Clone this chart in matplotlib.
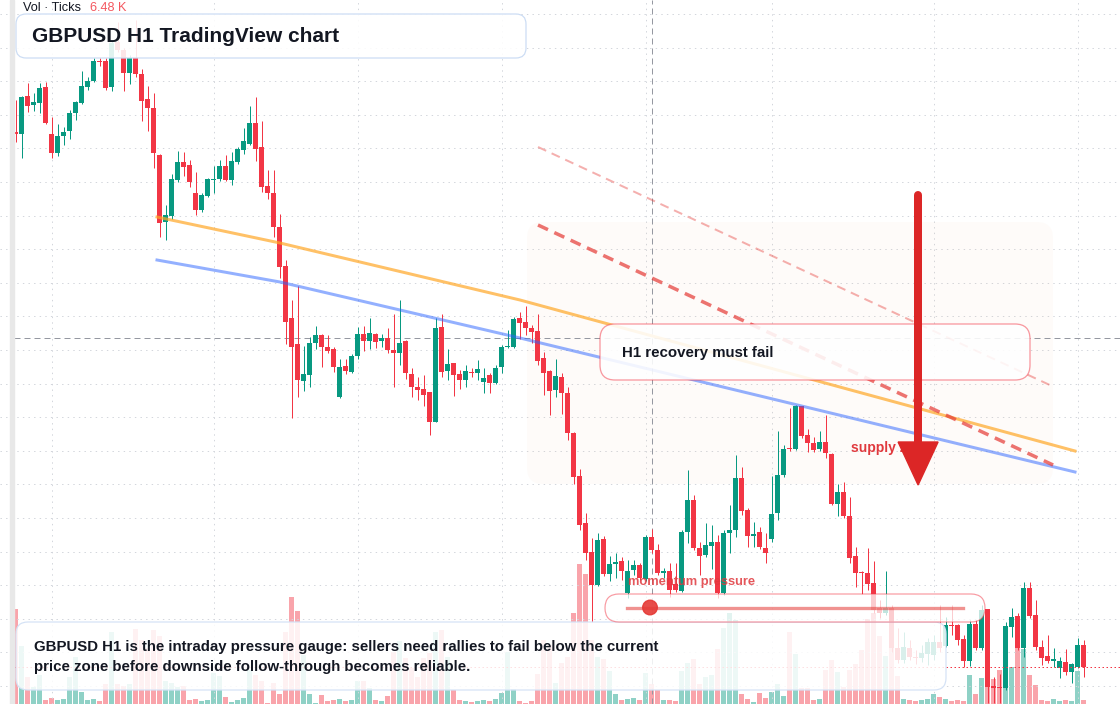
import matplotlib
matplotlib.use("Agg")
import matplotlib.pyplot as plt
import matplotlib.transforms as mtransforms
from matplotlib.patches import FancyBboxPatch, Polygon, Circle, Rectangle
from matplotlib.colors import to_rgba
import numpy as np

# ---- Dati (H1, prezzo in punti, volume in K tick) ----
opens = [
    668, 666, 704, 695, 697, 713, 666, 647, 664, 669,
    687, 697, 713, 719, 739, 739, 713, 758, 750, 727,
    742, 726, 701, 692, 645, 578, 584, 620, 638, 635,
    607, 590, 604, 620, 621, 634, 620, 638, 650, 656,
    677, 653, 614, 607, 573, 534, 482, 456, 419, 425,
    457, 465, 453, 451, 403, 434, 428, 444, 466, 459,
    466, 459, 462, 450, 447, 459, 426, 413, 411, 408,
    378, 473, 429, 437, 426, 420, 428, 427, 418, 425,
    417, 433, 453, 453, 482, 478, 472, 469, 442, 429,
    410, 423, 407, 367, 324, 277, 248, 215, 261, 226,
    236, 239, 207, 230, 235, 221, 263, 250, 227, 229,
    216, 209, 268, 300, 252, 245, 254, 258, 207, 267,
    270, 322, 290, 264, 268, 252, 261, 287, 325, 352,
    351, 394, 365, 357, 351, 358, 346, 296, 308, 284,
    244, 228, 227, 217, 192, 187, 192, 152, 140, 152,
    143, 142, 146, 145, 158, 154, 175, 175, 161, 139,
    176, 152, 191, 114, 113, 112, 173, 184, 152, 212,
    185, 153, 144, 139, 132, 138, 128, 133, 155,
]
highs = [
    700, 704, 717, 707, 717, 718, 683, 676, 673, 690,
    699, 729, 723, 742, 742, 742, 760, 778, 752, 745,
    780, 731, 714, 707, 646, 595, 626, 649, 648, 640,
    628, 607, 622, 634, 640, 645, 648, 653, 672, 694,
    703, 679, 630, 630, 586, 540, 500, 514, 454, 463,
    474, 466, 465, 453, 441, 441, 446, 473, 474, 482,
    467, 466, 472, 486, 500, 460, 432, 423, 425, 408,
    482, 486, 451, 437, 430, 435, 432, 440, 432, 427,
    435, 455, 470, 483, 488, 494, 475, 486, 448, 430,
    441, 427, 413, 368, 331, 287, 262, 267, 264, 244,
    247, 243, 240, 240, 237, 265, 271, 256, 232, 237,
    237, 270, 330, 305, 258, 277, 275, 265, 270, 295,
    345, 333, 292, 278, 273, 267, 324, 369, 355, 392,
    395, 394, 371, 363, 369, 385, 347, 316, 318, 303,
    253, 229, 252, 239, 200, 229, 195, 172, 168, 160,
    150, 155, 162, 165, 195, 183, 195, 176, 165, 180,
    180, 195, 191, 123, 126, 178, 192, 187, 218, 218,
    200, 160, 165, 152, 143, 151, 137, 162, 160,
]
lows = [
    658, 642, 688, 689, 687, 676, 642, 644, 655, 661,
    680, 696, 710, 718, 734, 710, 709, 748, 709, 716,
    723, 679, 669, 632, 563, 560, 581, 618, 624, 613,
    585, 588, 603, 607, 619, 619, 615, 636, 646, 655,
    639, 608, 601, 563, 522, 456, 382, 403, 409, 413,
    451, 433, 447, 428, 402, 426, 427, 441, 449, 451,
    452, 453, 447, 413, 435, 421, 403, 400, 394, 365,
    378, 423, 420, 404, 411, 413, 423, 420, 407, 407,
    416, 427, 452, 452, 461, 465, 457, 435, 405, 385,
    403, 386, 360, 316, 270, 240, 178, 214, 224, 219,
    222, 220, 202, 225, 220, 219, 247, 225, 222, 203,
    208, 208, 257, 250, 225, 243, 231, 202, 205, 247,
    263, 285, 253, 253, 251, 237, 258, 280, 323, 349,
    350, 362, 348, 348, 349, 342, 295, 284, 282, 237,
    213, 206, 210, 187, 182, 185, 148, 137, 137, 140,
    136, 138, 135, 140, 148, 153, 165, 155, 133, 134,
    150, 150, 97, 97, 97, 110, 163, 150, 143, 182,
    150, 135, 137, 133, 122, 125, 117, 132, 123,
]
closes = [
    666, 703, 694, 698, 712, 677, 647, 664, 668, 687,
    698, 714, 719, 739, 738, 712, 757, 750, 727, 742,
    726, 699, 692, 647, 577, 585, 621, 638, 633, 618,
    590, 605, 621, 621, 634, 620, 639, 651, 659, 677,
    651, 613, 607, 573, 533, 478, 453, 420, 426, 457,
    465, 453, 449, 433, 433, 429, 444, 466, 459, 467,
    458, 462, 450, 447, 457, 427, 413, 410, 405, 378,
    472, 428, 436, 425, 420, 429, 427, 431, 422, 417,
    432, 453, 454, 481, 477, 472, 468, 439, 427, 409,
    424, 407, 367, 323, 275, 247, 215, 260, 226, 236,
    238, 229, 229, 235, 222, 263, 250, 227, 229, 210,
    210, 268, 300, 252, 244, 255, 258, 207, 267, 270,
    322, 289, 264, 266, 253, 247, 286, 325, 351, 351,
    394, 364, 357, 350, 358, 347, 296, 308, 284, 242,
    227, 227, 216, 190, 187, 192, 152, 140, 153, 143,
    142, 147, 158, 158, 152, 175, 174, 160, 139, 176,
    152, 190, 113, 112, 112, 174, 183, 152, 212, 184,
    153, 142, 139, 141, 139, 128, 136, 155, 133,
]
volumes = [
    9.5, 5.8, 2.7, 1.7, 2.9, 0.4, 0.6, 0.4, 0.5, 2.7,
    4.7, 1.2, 0.4, 0.5, 0.3, 2.0, 7.2, 2.0, 1.8, 2.0,
    7.5, 6.4, 5.6, 7.4, 6.8, 2.3, 2.1, 1.7, 1.8, 0.4,
    0.5, 0.3, 0.4, 3.1, 2.8, 0.7, 0.2, 0.4, 0.6, 3.4,
    2.9, 2.3, 0.1, 2.1, 1.0, 7.2, 10.7, 9.3, 4.9, 1.0,
    0.1, 0.9, 0.3, 0.4, 0.5, 0.3, 0.4, 2.3, 2.3, 1.6,
    0.4, 0.3, 0.8, 5.2, 6.3, 4.6, 3.6, 2.7, 4.6, 5.1,
    7.2, 7.4, 4.7, 1.4, 0.4, 0.3, 0.2, 0.3, 0.4, 0.3,
    0.5, 1.1, 5.2, 1.5, 0.3, 0.1, 0.3, 3.0, 6.4, 5.9,
    2.1, 4.1, 4.7, 9.1, 14.0, 13.0, 6.4, 4.7, 4.5, 3.3,
    1.0, 0.4, 0.5, 0.6, 0.4, 3.1, 2.0, 1.4, 0.4, 0.4,
    0.3, 3.3, 4.1, 4.5, 2.0, 2.7, 2.9, 5.5, 7.6, 9.1,
    8.4, 1.0, 0.5, 0.2, 1.1, 0.6, 1.2, 2.0, 0.8, 7.2,
    5.0, 1.6, 1.6, 0.4, 0.5, 3.4, 4.4, 3.2, 1.7, 3.4,
    4.0, 5.4, 8.5, 9.1, 6.8, 4.8, 9.5, 2.8, 0.5, 0.4,
    0.3, 0.4, 0.5, 1.0, 0.7, 0.5, 0.3, 0.4, 0.3, 2.9,
    1.0, 2.6, 1.7, 2.5, 3.4, 3.7, 3.7, 6.0, 5.5, 2.9,
    1.9, 0.4, 0.3, 0.5, 0.3, 0.4, 0.3, 3.3, 0.4,
]

# disegni sul grafico (indice barra, prezzo)
trend_x = [23.55, 44.05, 84.05, 176.55]
orange_y = [583, 557, 500, 349]
blue_y = [540, 518, 462, 328]
red_dash_x = [87.05, 172.9]
red_dash_y = [575, 335]
faint_dash_x = [87.05, 172.7]
faint_dash_y = [653, 414]
arrow_idx, arrow_top, arrow_tip, arrow_head = 150.4, 605, 315, 358
cross_idx, cross_price = 106, 462
day_lines = [6, 33, 57, 81, 105, 126, 153, 177]

title = "GBPUSD H1 TradingView chart"
note = "H1 recovery must fail"
zone_label = "supply zone"
gauge_label = "momentum pressure"
caption = ["GBPUSD H1 is the intraday pressure gauge: sellers need rallies to fail below the current",
           "price zone before downside follow-through becomes reliable."]

W, H = 1120, 704
PT = 0.72  # 1 px in punti a 100 dpi
GREEN, RED = "#089981", "#F23645"
INK = "#131722"


def rounded_box(ax, tr, x, y, w, h, r, face, alpha, edge, lw, z):
    ax.add_patch(FancyBboxPatch((x, y), w, h, boxstyle=f"round,pad=0,rounding_size={r}",
                                transform=tr, facecolor=to_rgba(face, alpha),
                                edgecolor=edge, linewidth=lw * PT, zorder=z))


def draw_chart(path):
    plt.rcParams["font.family"] = ["Liberation Sans", "DejaVu Sans"]
    plt.rcParams["lines.scale_dashes"] = False

    fig = plt.figure(figsize=(W / 100, H / 100), dpi=100)
    vax = fig.add_axes([0, 0, 1, 1])
    ax = fig.add_axes([0, 0, 1, 1], sharex=vax)
    ax.patch.set_visible(False)
    vax.set_axis_off()
    ax.set_axis_off()
    px = mtransforms.Affine2D().scale(1, -1).translate(0, H)

    o, h, l, c = (np.array(a, dtype=float) for a in (opens, highs, lows, closes))
    idx = np.arange(len(c))
    cols = np.where(c >= o, GREEN, RED)
    x_span = [-0.3, 190]  # pannello prezzi, dal bordo sinistro in poi

    # ---- volume ----
    vax.bar(idx, volumes, width=0.75, color=[to_rgba(k, 0.45) for k in cols], linewidth=0)

    # ---- griglia e crosshair ----
    for g in np.arange(114, 800, 33.6):
        ax.axhline(g, color="#d3d6dc", lw=PT, dashes=(1.4 * PT, 4.2 * PT), zorder=0.5)
    for g in day_lines:
        ax.axvline(g, color="#d3d6dc", lw=PT, dashes=(1.4 * PT, 4.2 * PT), zorder=0.5)
    ax.axvline(cross_idx, color="#9598a1", lw=PT, dashes=(6 * PT, 4 * PT), zorder=1)
    ax.plot(x_span, [cross_price] * 2, color="#9598a1", lw=PT, dashes=(6 * PT, 4 * PT), zorder=1)

    # zona di offerta
    rounded_box(ax, px, 527, 222, 526, 262, 16, "#f4a261", 0.035, "none", 0, 0.8)

    # ---- candele ----
    ax.vlines(idx, l, h, colors=cols, linewidth=PT, zorder=2)
    body = np.abs(c - o)
    hb = np.maximum(body, 1.3)
    bottom = np.minimum(o, c) - (hb - body) / 2
    ax.bar(idx, hb, bottom=bottom, width=0.75, color=cols, linewidth=0, zorder=2.1)
    ax.plot(x_span, [c[-1]] * 2, color=RED, lw=PT, dashes=(1.5 * PT, 2.5 * PT), zorder=2.5)

    # ---- trendline ----
    ax.plot(trend_x, orange_y, color="#ffa726", alpha=0.7, lw=3 * PT, zorder=3)
    ax.plot(trend_x, blue_y, color="#2962ff", alpha=0.5, lw=3 * PT, zorder=3)
    ax.plot(red_dash_x, red_dash_y, color="#e53935", alpha=0.7, lw=3.5 * PT,
            dashes=(11 * PT, 7 * PT), zorder=3)
    ax.plot(faint_dash_x, faint_dash_y, color="#e53935", alpha=0.4, lw=2 * PT,
            dashes=(9 * PT, 6 * PT), zorder=3)

    ax.text(851, 448, zone_label, transform=px, color="#e0393e", fontsize=10,
            fontweight="bold", va="center", ha="left", zorder=3.5)

    # ---- riquadri ----
    rounded_box(ax, px, 16, 14, 510, 44, 10, "white", 0.88, "#cbdcf4", 1.2, 4)
    ax.text(32, 36, title, transform=px, color=INK, fontsize=15, fontweight="bold",
            va="center", ha="left", zorder=4.5)
    ax.text(23, 8, "Vol · Ticks", transform=px, color=INK, fontsize=9.2,
            va="center", ha="left", zorder=4.5)
    ax.text(90, 8, "6.48 K", transform=px, color="#f4575f", fontsize=9.2,
            va="center", ha="left", zorder=4.5)

    rounded_box(ax, px, 600, 324, 430, 56, 15, "white", 0.88, to_rgba(RED, 0.5), 1.3, 4)
    ax.text(622, 353, note, transform=px, color=INK, fontsize=10.8, fontweight="bold",
            va="center", ha="left", zorder=4.5)

    rounded_box(ax, px, 16, 622, 930, 68, 12, "white", 0.85, "#d4e2f6", 1.2, 4)
    for k, line in enumerate(caption):
        ax.text(34, 647 + 20 * k, line, transform=px, color=INK, fontsize=10.85,
                fontweight="bold", va="center", ha="left", zorder=4.5)

    rounded_box(ax, px, 605, 594, 380, 28, 14, "white", 0.75, to_rgba(RED, 0.5), 1.2, 4.2)
    ax.plot([627, 963], [607.5, 607.5], transform=px, color=to_rgba("#e53935", 0.55),
            lw=3.3 * PT, zorder=4.6)
    ax.add_patch(Circle((650, 607.5), 7.3, transform=px, color=to_rgba("#e53935", 0.9), zorder=4.7))
    ax.text(628, 582, gauge_label, transform=px, color="#e0393e", alpha=0.85, fontsize=9.3,
            fontweight="bold", va="center", ha="left", zorder=5)

    # ---- freccia ----
    ax.plot([arrow_idx, arrow_idx], [arrow_top, arrow_head], color="#dc2626",
            lw=8 * PT, solid_capstyle="round", zorder=6)
    ax.add_patch(Polygon([(arrow_idx - 3.33, arrow_head), (arrow_idx + 3.33, arrow_head),
                          (arrow_idx, arrow_tip)], closed=True, color="#dc2626", zorder=6))

    ax.add_patch(Rectangle((10, 0), 4, H, transform=px, color="#e8e8e8", zorder=7))

    ax.set_xlim(-15.7 / 6, (W - 15.7) / 6)
    ax.set_ylim(800 - H, 800)
    vax.set_ylim(0, H / 10)

    fig.savefig(path, dpi=100)


if __name__ == "__main__":
    draw_chart("out.png")
